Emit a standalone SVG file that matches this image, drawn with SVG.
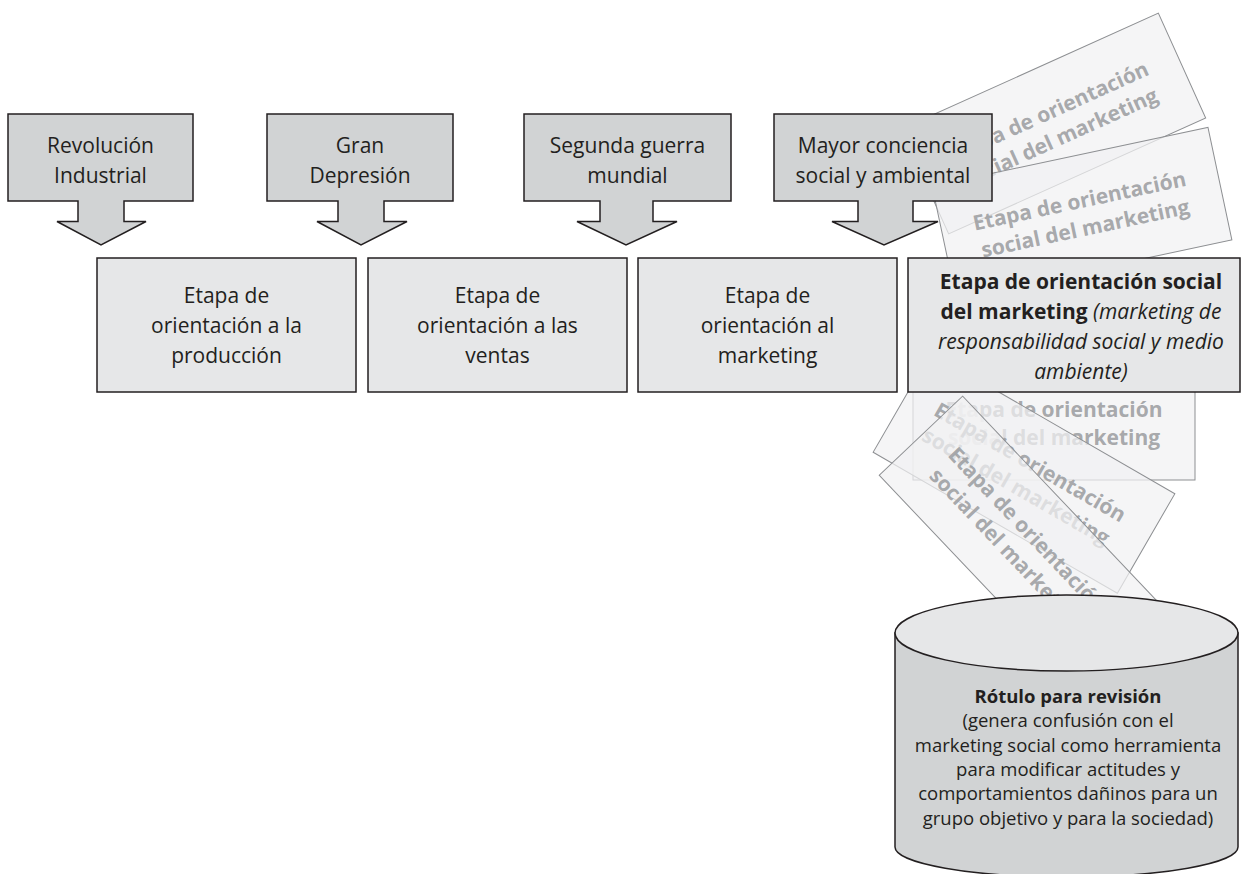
<svg xmlns="http://www.w3.org/2000/svg" width="1242" height="874" viewBox="0 0 1242 874">
<defs>
<style>
.cbox{fill:#d1d3d4;stroke:#231f20;stroke-width:1.5;stroke-linejoin:miter}
.mbox{fill:#e6e7e8;stroke:#231f20;stroke-width:1.5}
.t{font-family:"Open Sans","Liberation Sans",sans-serif;font-size:21px;fill:#231f20;text-anchor:middle}
.b{font-weight:700}
.i{font-style:italic}
.ct{font-family:"Open Sans","Liberation Sans",sans-serif;font-size:18.5px;fill:#231f20;text-anchor:middle}
.ghost rect{fill:#f1f1f2;fill-opacity:0.72;stroke:#8d8f92;stroke-width:1}
.ghost text{font-family:"Open Sans","Liberation Sans",sans-serif;font-weight:700;font-size:21px;fill:#9d9fa2;fill-opacity:0.9;text-anchor:middle}
</style>
</defs>
<rect width="1242" height="874" fill="#ffffff"/>

<!-- ghost cards behind callout 4 -->
<g id="ghost-a" class="ghost" transform="translate(1053.5,123.5) rotate(-24.3)">
<rect x="-141" y="-57.5" width="282" height="115"/>
<text x="0" y="-5">Etapa de orientación</text>
<text x="0" y="23">social del marketing</text>
</g>
<g id="ghost-b" class="ghost" transform="translate(1082,213) rotate(-12)">
<rect x="-141" y="-57.5" width="282" height="115"/>
<text x="0" y="-5">Etapa de orientación</text>
<text x="0" y="23">social del marketing</text>
</g>

<!-- ghost cards below box 4 -->
<g id="ghost-c" class="ghost">
<rect x="913" y="365" width="282" height="115"/>
<text x="1054" y="417">Etapa de orientación</text>
<text x="1054" y="445">social del marketing</text>
</g>
<g id="ghost-d" class="ghost" transform="translate(1024,473) rotate(30)">
<rect x="-141" y="-57.5" width="282" height="115"/>
<text x="0" y="-5">Etapa de orientación</text>
<text x="0" y="23">social del marketing</text>
</g>
<g id="ghost-e" class="ghost" transform="translate(1018,538) rotate(46.5)">
<rect x="-141" y="-57.5" width="282" height="115"/>
<text x="0" y="-5">Etapa de orientación</text>
<text x="0" y="23">social del marketing</text>
</g>

<!-- callouts -->
<g id="callout-1">
<path class="cbox" d="M8,114 H193 V201 H124 V221.5 H146 L101,245 L57,221.5 H78 V201 H8 Z"/>
<text class="t" x="100.5" y="153">Revolución</text>
<text class="t" x="100.5" y="183">Industrial</text>
</g>
<g id="callout-2">
<path class="cbox" d="M267,114 H453 V201 H384 V221.5 H407 L361,245 L317,221.5 H338 V201 H267 Z"/>
<text class="t" x="360" y="153">Gran</text>
<text class="t" x="360" y="183">Depresión</text>
</g>
<g id="callout-3">
<path class="cbox" d="M524,114 H731 V201 H653 V221.5 H677 L626,245 L577,221.5 H600 V201 H524 Z"/>
<text class="t" x="627.5" y="153">Segunda guerra</text>
<text class="t" x="627.5" y="183">mundial</text>
</g>
<g id="callout-4">
<path class="cbox" d="M774,114 H992 V201 H913 V221.5 H938 L884,245 L832,221.5 H858 V201 H774 Z"/>
<text class="t" x="883" y="153">Mayor conciencia</text>
<text class="t" x="883" y="183">social y ambiental</text>
</g>

<!-- main stage boxes -->
<g id="stage-1">
<rect class="mbox" x="97" y="258" width="259" height="134"/>
<text class="t" x="226.5" y="303">Etapa de</text>
<text class="t" x="226.5" y="333">orientación a la</text>
<text class="t" x="226.5" y="363">producción</text>
</g>
<g id="stage-2">
<rect class="mbox" x="368" y="258" width="259" height="134"/>
<text class="t" x="497.5" y="303">Etapa de</text>
<text class="t" x="497.5" y="333">orientación a las</text>
<text class="t" x="497.5" y="363">ventas</text>
</g>
<g id="stage-3">
<rect class="mbox" x="638" y="258" width="259" height="134"/>
<text class="t" x="767.5" y="303">Etapa de</text>
<text class="t" x="767.5" y="333">orientación al</text>
<text class="t" x="767.5" y="363">marketing</text>
</g>
<g id="stage-4">
<rect class="mbox" x="908" y="258" width="332" height="134"/>
<text class="t b" x="1081" y="289">Etapa de orientación social</text>
<text class="t" x="1081" y="319"><tspan class="b">del marketing</tspan><tspan class="i"> (marketing de</tspan></text>
<text class="t i" x="1081" y="349">responsabilidad social y medio</text>
<text class="t i" x="1081" y="379">ambiente)</text>
</g>

<!-- cylinder -->
<g id="review-label">
<path d="M895,633 V847 A171.5,30 0 0 0 1238,847 V633 Z" fill="#d1d3d4" stroke="#231f20" stroke-width="1.5"/>
<ellipse cx="1066.5" cy="633" rx="171.5" ry="38" fill="#e6e7e8" stroke="#231f20" stroke-width="1.5"/>
<text class="ct b" x="1068" y="703">Rótulo para revisión</text>
<text class="ct" x="1068" y="727">(genera confusión con el</text>
<text class="ct" x="1068" y="751.5">marketing social como herramienta</text>
<text class="ct" x="1068" y="776">para modificar actitudes y</text>
<text class="ct" x="1068" y="800">comportamientos dañinos para un</text>
<text class="ct" x="1068" y="824.5">grupo objetivo y para la sociedad)</text>
</g>

<g id="connectors"></g>
</svg>
